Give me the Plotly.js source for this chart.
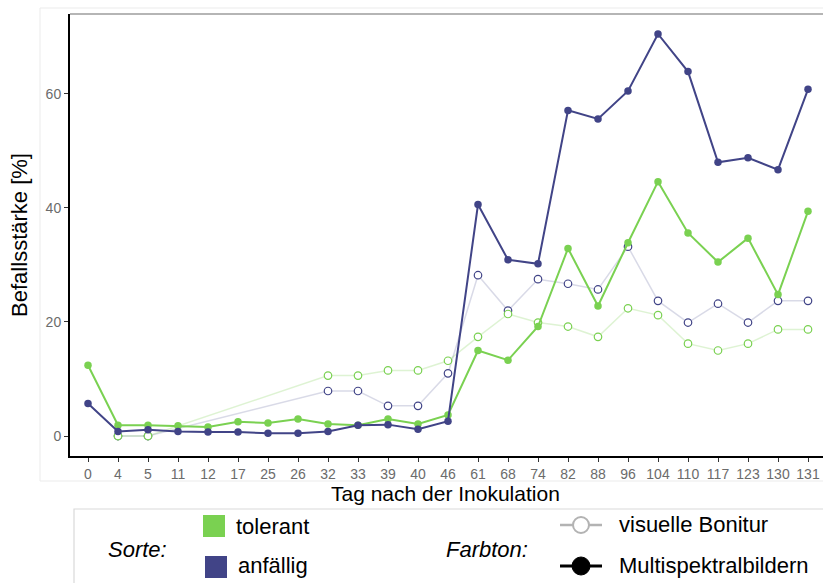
<!DOCTYPE html>
<html>
<head>
<meta charset="utf-8">
<script src="https://cdn.plot.ly/plotly-3.0.1.min.js"></script>
<style>
html,body{margin:0;padding:0;background:#fff;}
#chart{width:823px;height:583px;}
</style>
</head>
<body>
<div id="chart"></div>
<script>
// Tag nach der Inokulation (categories)
const days = ["0","4","5","11","12","17","25","26","32","33","39","40","46","61","68","74","82","88","96","104","110","117","123","130","131"];

// Multispektralbildern
const tolerantMulti = [12.4,1.9,1.9,1.8,1.6,2.5,2.3,3.0,2.1,1.9,3.0,2.1,3.7,15.0,13.3,19.2,32.9,22.8,33.9,44.6,35.6,30.5,34.7,24.8,39.4];
const anfaelligMulti = [5.7,0.8,1.1,0.8,0.7,0.7,0.5,0.5,0.8,1.9,2.0,1.2,2.6,40.6,30.9,30.2,57.1,55.6,60.5,70.5,63.9,48.0,48.8,46.7,60.8];

// visuelle Bonitur
const tolerantVis = [null,0,0,null,null,null,null,null,10.6,10.6,11.5,11.5,13.2,17.4,21.4,19.9,19.2,17.4,22.4,21.2,16.2,15.0,16.2,18.7,18.7];
const anfaelligVis = [null,0,0,null,null,null,null,null,7.9,7.9,5.3,5.3,11.0,28.2,22.0,27.5,26.7,25.7,33.2,23.7,19.9,23.2,19.9,23.7,23.7];

const yTicks = [0,20,40,60];

const GREEN = "#7AD151";
const BLUE = "#414487";

const traces = [
  {x: days, y: anfaelligVis, type: "scatter", mode: "lines+markers", connectgaps: true,
   line: {color: "rgba(65,68,135,0.2)", width: 1.5},
   marker: {symbol: "circle", size: 7.5, color: "#ffffff", line: {color: BLUE, width: 1.2}}},
  {x: days, y: tolerantVis, type: "scatter", mode: "lines+markers", connectgaps: true,
   line: {color: "rgba(122,209,81,0.25)", width: 1.5},
   marker: {symbol: "circle", size: 7.5, color: "#ffffff", line: {color: GREEN, width: 1.2}}},
  {x: days, y: tolerantMulti, type: "scatter", mode: "lines+markers",
   line: {color: GREEN, width: 2},
   marker: {symbol: "circle", size: 7.5, color: GREEN}},
  {x: days, y: anfaelligMulti, type: "scatter", mode: "lines+markers",
   line: {color: BLUE, width: 2},
   marker: {symbol: "circle", size: 7.5, color: BLUE}}
];

// pixel -> paper helpers (plot area: x 70..823, y 14..456)
const L = 70, R = 823, T = 14, B = 456;
const px = v => (v - L) / (R - L);
const py = v => (B - v) / (B - T);

const FONT = "Liberation Sans, Arial, sans-serif";

const shapes = [
  // outer faint frame
  {type: "line", xref: "paper", yref: "paper", x0: px(40), x1: px(830), y0: py(8), y1: py(8), line: {color: "#ebebeb", width: 1}},
  {type: "line", xref: "paper", yref: "paper", x0: px(40), x1: px(40), y0: py(8), y1: py(481), line: {color: "#ebebeb", width: 1}},
  {type: "line", xref: "paper", yref: "paper", x0: px(40), x1: px(830), y0: py(481), y1: py(481), line: {color: "#ebebeb", width: 1}},
  // top border of panel
  {type: "line", xref: "paper", yref: "paper", x0: 0, x1: px(830), y0: 1, y1: 1, line: {color: "#b5b5b5", width: 2}},
  // legend box
  {type: "rect", xref: "paper", yref: "paper", x0: px(74), x1: px(840), y0: py(509), y1: py(600), line: {color: "#d9d9d9", width: 1.2}, fillcolor: "rgba(0,0,0,0)"},
  // legend keys: Sorte
  {type: "rect", xref: "paper", yref: "paper", x0: px(203), x1: px(225), y0: py(515), y1: py(537), line: {width: 0}, fillcolor: GREEN},
  {type: "rect", xref: "paper", yref: "paper", x0: px(205), x1: px(227), y0: py(556), y1: py(578), line: {width: 0}, fillcolor: BLUE},
  // legend keys: Farbton
  {type: "line", xref: "paper", yref: "paper", x0: px(560), x1: px(602), y0: py(525), y1: py(525), line: {color: "#b3b3b3", width: 2.5}},
  {type: "circle", xref: "paper", yref: "paper", x0: px(573), x1: px(589), y0: py(517), y1: py(533), line: {color: "#b3b3b3", width: 2}, fillcolor: "#ffffff"},
  {type: "line", xref: "paper", yref: "paper", x0: px(560), x1: px(602), y0: py(566), y1: py(566), line: {color: "#000000", width: 3}},
  {type: "circle", xref: "paper", yref: "paper", x0: px(572), x1: px(590), y0: py(557), y1: py(575), line: {color: "#000000", width: 1}, fillcolor: "#000000"}
];

const annotations = [
  {text: "Tag nach der Inokulation", xref: "paper", yref: "paper", x: px(445), y: py(493), xanchor: "center", yanchor: "middle", showarrow: false,
   height: 24, borderpad: 0,
   font: {family: FONT, size: 21, color: "#000000"}},
  {text: "<i>Sorte:</i>", xref: "paper", yref: "paper", x: px(106), y: py(549), xanchor: "left", yanchor: "middle", showarrow: false,
   font: {family: FONT, size: 22, color: "#000000"}},
  {text: "tolerant", xref: "paper", yref: "paper", x: px(234), y: py(526), xanchor: "left", yanchor: "middle", showarrow: false,
   font: {family: FONT, size: 22, color: "#000000"}},
  {text: "anfällig", xref: "paper", yref: "paper", x: px(236), y: py(565), xanchor: "left", yanchor: "middle", showarrow: false,
   font: {family: FONT, size: 22, color: "#000000"}},
  {text: "<i>Farbton:</i>", xref: "paper", yref: "paper", x: px(444), y: py(549), xanchor: "left", yanchor: "middle", showarrow: false,
   font: {family: FONT, size: 22, color: "#000000"}},
  {text: "visuelle Bonitur", xref: "paper", yref: "paper", x: px(617), y: py(524), xanchor: "left", yanchor: "middle", showarrow: false,
   font: {family: FONT, size: 22, color: "#000000"}},
  {text: "Multispektralbildern", xref: "paper", yref: "paper", x: px(617), y: py(565), xanchor: "left", yanchor: "middle", showarrow: false,
   font: {family: FONT, size: 22, color: "#000000"}}
];

const layout = {
  width: 823, height: 583,
  margin: {l: L, r: 823 - R, t: T, b: 583 - B, pad: 0},
  paper_bgcolor: "#ffffff", plot_bgcolor: "#ffffff",
  showlegend: false,
  font: {family: FONT},
  xaxis: {
    type: "category", categoryorder: "array", categoryarray: days,
    range: [-0.6, 24.5], showgrid: false, zeroline: false,
    showline: true, linecolor: "#000000", linewidth: 2,
    ticks: "outside", ticklen: 4, tickwidth: 1, tickcolor: "#333333",
    tickfont: {family: FONT, size: 14, color: "#6b6b6b"},
    title: {text: ""}
  },
  yaxis: {
    range: [-3.5, 74], tickvals: yTicks, ticktext: yTicks.map(String),
    showgrid: false, zeroline: false,
    showline: true, linecolor: "#000000", linewidth: 2,
    ticks: "outside", ticklen: 4, tickwidth: 1, tickcolor: "#333333",
    tickfont: {family: FONT, size: 14, color: "#6b6b6b"},
    title: {text: "Befallsstärke [%]", font: {family: FONT, size: 22, color: "#000000"}, standoff: 12}
  },
  shapes: shapes,
  annotations: annotations
};

Plotly.newPlot("chart", traces, layout, {staticPlot: true, displayModeBar: false});
</script>
</body>
</html>
